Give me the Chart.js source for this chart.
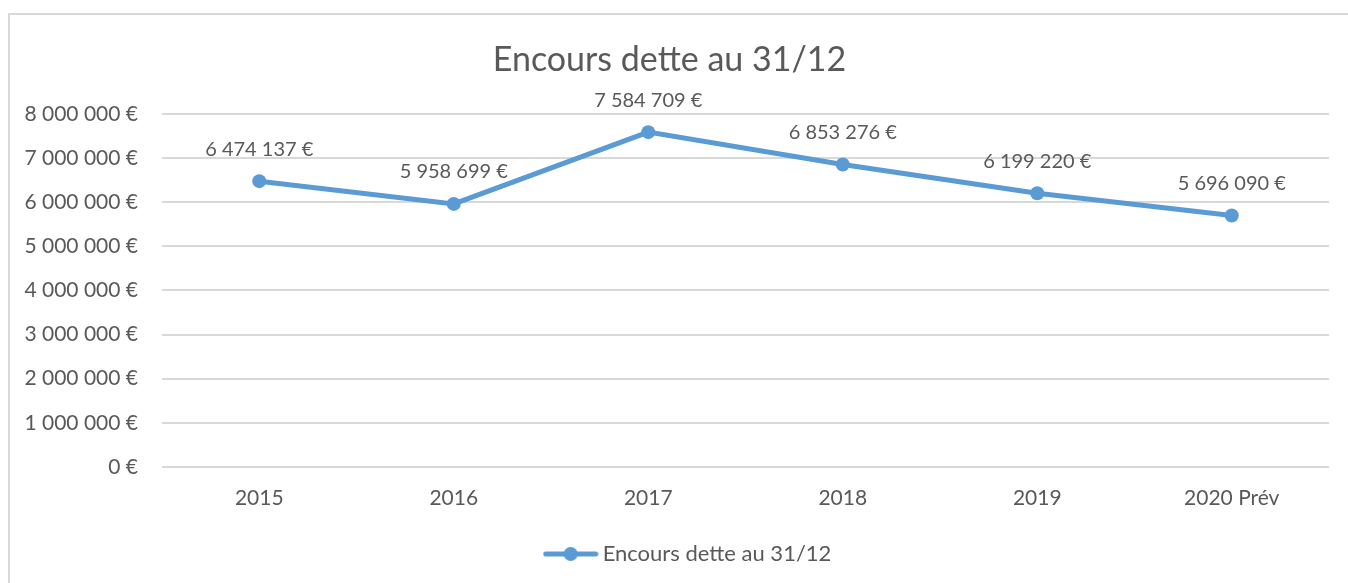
<!DOCTYPE html>
<html>
<head>
<meta charset="utf-8">
<script src="https://cdn.jsdelivr.net/npm/chart.js@4"></script>
<style>
  body { margin: 0; background: #fff; overflow: hidden; }
  #frame { position: absolute; left: 8px; top: 13px; width: 1400px; height: 620px; border: 2px solid #d9d9d9; }
  #chart { position: absolute; left: 0; top: 0; }
</style>
</head>
<body>
<div id="frame"><canvas id="chart" width="1338" height="568"></canvas></div>
<script>
const categories = ['2015', '2016', '2017', '2018', '2019', '2020 Prév'];
const encours = [6474137, 5958699, 7584709, 6853276, 6199220, 5696090];
const seriesName = 'Encours dette au 31/12';
const chartTitle = 'Encours dette au 31/12';

const blue = '#5b9bd5';
const grey = '#595959';
const fontFamily = 'Lato, "Noto Sans", sans-serif';

// french style: 6 474 137 €
function euro(v) {
  return String(Math.round(v)).replace(/\B(?=(\d{3})+(?!\d))/g, ' ') + ' €';
}

// legend symbol: short line with a dot in the middle
function legendSymbol() {
  const c = document.createElement('canvas');
  c.width = 56; c.height = 16;
  const g = c.getContext('2d');
  g.strokeStyle = blue;
  g.lineWidth = 5;
  g.lineCap = 'round';
  g.beginPath(); g.moveTo(3, 8); g.lineTo(53, 8); g.stroke();
  g.fillStyle = blue;
  g.beginPath(); g.arc(28, 8, 7, 0, Math.PI * 2); g.fill();
  return c;
}

const valueLabels = {
  id: 'valueLabels',
  afterLayout(chart) {
    // excel puts the legend a bit right of centre
    chart.legend.left += 21;
    chart.legend.right += 21;
  },
  afterDatasetsDraw(chart) {
    const ctx = chart.ctx;
    const meta = chart.getDatasetMeta(0);
    ctx.save();
    ctx.font = '20px ' + fontFamily;
    ctx.fillStyle = grey;
    ctx.textAlign = 'center';
    ctx.textBaseline = 'middle';
    meta.data.forEach((pt, i) => {
      ctx.fillText(euro(chart.data.datasets[0].data[i]), pt.x, pt.y - 32);
    });
    ctx.restore();
  }
};

const symbol = legendSymbol();

new Chart(document.getElementById('chart'), {
  type: 'line',
  data: {
    labels: categories,
    datasets: [{
      label: seriesName,
      data: encours,
      borderColor: blue,
      backgroundColor: blue,
      borderWidth: 5,
      pointRadius: 7,
      pointHoverRadius: 7,
      pointBackgroundColor: blue,
      pointBorderWidth: 0,
      tension: 0
    }]
  },
  options: {
    responsive: false,
    animation: false,
    layout: { padding: { left: 0, right: 19, top: 0, bottom: 8 } },
    plugins: {
      title: {
        display: true,
        text: chartTitle,
        color: grey,
        font: { family: fontFamily, size: 34, weight: 'normal' },
        padding: { top: 25, bottom: 33 }
      },
      legend: {
        position: 'bottom',
        labels: {
          color: grey,
          font: { family: fontFamily, size: 22 },
          usePointStyle: true,
          pointStyleWidth: 42,
          generateLabels: () => [{
            text: seriesName,
            pointStyle: symbol,
            fontColor: grey,
            datasetIndex: 0
          }],
          padding: 10
        }
      },
      tooltip: { enabled: false }
    },
    scales: {
      x: {
        offset: true,
        grid: { display: false, drawTicks: false },
        border: { display: false },
        ticks: { color: grey, font: { family: fontFamily, size: 21 }, padding: 19, maxRotation: 0 },
        afterFit: (s) => { s.height = 66; }
      },
      y: {
        min: 0,
        max: 8000000,
        grid: { color: '#d9d9d9', lineWidth: 2, drawTicks: false },
        border: { display: false },
        ticks: {
          stepSize: 1000000,
          color: grey,
          font: { family: fontFamily, size: 21 },
          padding: 24,
          callback: (v) => euro(v)
        },
        afterFit: (s) => { s.width = 152; }
      }
    }
  },
  plugins: [valueLabels]
});
</script>
</body>
</html>
